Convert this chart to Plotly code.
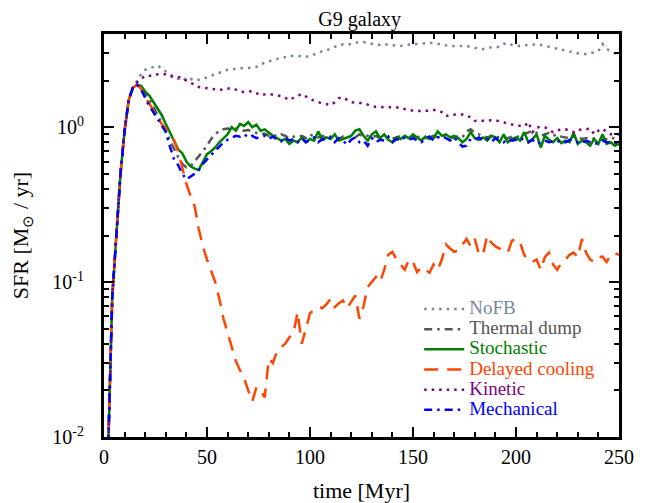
import plotly.graph_objects as go

# time in Myr, sampled every 2 Myr
time = list(range(0, 252, 2))

nofb = [
    0.002, 0.008, 0.08, 0.19, 0.5, 0.95, 1.5, 1.8, 2.0, 2.2,
    2.35, 2.4, 2.45, 2.5, 2.4, 2.3, 2.2, 2.1, 2.05, 2.1,
    2.0, 2.05, 2.0, 2.02, 2.05, 2.1, 2.15, 2.2, 2.27, 2.3,
    2.35, 2.37, 2.38, 2.4, 2.4, 2.42, 2.44, 2.45, 2.55, 2.62,
    2.66, 2.72, 2.76, 2.8, 2.85, 2.88, 2.9, 2.88, 2.86, 2.85,
    2.88, 2.95, 3.05, 3.1, 3.15, 3.2, 3.3, 3.4, 3.42, 3.4,
    3.45, 3.5, 3.55, 3.55, 3.5, 3.45, 3.42, 3.4, 3.45, 3.4,
    3.38, 3.35, 3.35, 3.4, 3.42, 3.45, 3.45, 3.48, 3.5, 3.5,
    3.5, 3.45, 3.4, 3.38, 3.35, 3.35, 3.38, 3.35, 3.35, 3.3,
    3.25, 3.22, 3.2, 3.25, 3.28, 3.3, 3.3, 3.45, 3.5, 3.4,
    3.35, 3.35, 3.38, 3.4, 3.42, 3.4, 3.4, 3.35, 3.3, 3.25,
    3.2, 3.15, 3.1, 3.08, 3.06, 3.0, 2.98, 2.97, 3.0, 3.05,
    3.1, 3.45, 3.2, 3.1, 3.0, 2.97,
]

thermal = [
    0.002, 0.008, 0.08, 0.19, 0.5, 0.95, 1.5, 1.8, 1.88, 1.8,
    1.65, 1.5, 1.35, 1.2, 1.08, 0.95, 0.82, 0.72, 0.64, 0.58,
    0.55, 0.56, 0.6, 0.65, 0.7, 0.76, 0.84, 0.9, 0.95, 0.97,
    0.98, 0.97, 0.98, 0.96, 0.95, 0.96, 0.94, 0.92, 0.9, 0.91,
    0.88, 0.9, 0.87, 0.9, 0.88, 0.85, 0.87, 0.86, 0.88, 0.85,
    0.9, 0.87, 0.86, 0.88, 0.85, 0.87, 0.86, 0.84, 0.87, 0.85,
    0.88, 0.86, 0.9, 0.87, 0.88, 0.86, 0.88, 0.85, 0.87, 0.86,
    0.84, 0.86, 0.88, 0.87, 0.85, 0.87, 0.86, 0.88, 0.85, 0.86,
    0.88, 0.86, 0.85, 0.87, 0.86, 0.85, 0.88, 0.86, 0.94, 0.97,
    0.92, 0.9, 0.87, 0.86, 0.88, 0.85, 0.87, 0.86, 0.85, 0.87,
    0.86, 0.88, 0.9, 0.93, 0.95, 0.92, 0.88, 0.9, 0.92, 0.88,
    0.9, 0.87, 0.86, 0.85, 0.87, 0.86, 0.84, 0.85, 0.86, 0.84,
    0.85, 0.83, 0.84, 0.86, 0.84, 0.83,
]

stochastic = [
    0.002, 0.008, 0.08, 0.19, 0.5, 0.95, 1.5, 1.8, 1.88, 1.85,
    1.7, 1.6, 1.45, 1.3, 1.2, 1.05, 0.93, 0.82, 0.72, 0.68,
    0.6, 0.56, 0.54, 0.53, 0.6, 0.67, 0.7, 0.74, 0.8, 0.85,
    0.9, 1.0, 0.95, 1.05, 1.02, 1.08, 1.0, 1.04, 0.95, 0.97,
    0.92, 0.88, 0.85, 0.82, 0.84, 0.78, 0.82, 0.8, 0.86, 0.8,
    0.84, 0.82, 0.94, 0.83, 0.86, 0.84, 0.9, 0.82, 0.84, 0.86,
    0.88, 0.95, 0.97, 0.88, 0.82, 0.9, 0.94, 0.85, 0.9, 0.83,
    0.8, 0.86, 0.84, 0.88, 0.85, 0.9, 0.86, 0.82, 0.87, 0.84,
    0.85, 0.94, 0.88, 0.9, 0.86, 0.88, 0.85, 0.8, 0.84, 0.93,
    0.85, 0.83, 0.86, 0.82, 0.88, 0.86, 0.8, 0.9, 0.8, 0.84,
    0.86, 0.82, 0.93, 0.8, 0.84, 0.9, 0.74, 0.88, 0.83, 0.8,
    0.85, 0.79, 0.82, 0.8, 0.92, 0.78, 0.82, 0.8, 0.76, 0.84,
    0.78, 0.9, 0.78, 0.8, 0.76, 0.78,
]

delayed = [
    0.002, 0.008, 0.08, 0.19, 0.5, 0.95, 1.5, 1.8, 1.88, 1.78,
    1.55, 1.42, 1.28, 1.15, 1.05, 0.98, 0.9, 0.82, 0.7, 0.56,
    0.43, 0.36, 0.31, 0.22, 0.17, 0.14, 0.12, 0.1, 0.078, 0.058,
    0.047, 0.038, 0.031, 0.027, 0.024, 0.02, 0.017, 0.021, 0.02, 0.018,
    0.032, 0.03, 0.036, 0.038, 0.04, 0.044, 0.047, 0.064, 0.04, 0.05,
    0.063, 0.066, 0.069, 0.068, 0.072, 0.078, 0.069, 0.073, 0.076, 0.068,
    0.075, 0.082, 0.058, 0.07, 0.093, 0.1, 0.108, 0.1, 0.12, 0.15,
    0.157, 0.14, 0.13, 0.12, 0.14, 0.135, 0.116, 0.125, 0.12, 0.115,
    0.13, 0.12, 0.14, 0.175, 0.165, 0.157, 0.16, 0.175, 0.19, 0.17,
    0.19, 0.152, 0.15, 0.2, 0.18, 0.17, 0.165, 0.16, 0.155, 0.185,
    0.19, 0.18, 0.15, 0.138, 0.135, 0.14, 0.12, 0.145, 0.155, 0.13,
    0.12, 0.133, 0.14, 0.15, 0.155, 0.145, 0.19, 0.155, 0.14, 0.135,
    0.145, 0.146, 0.135, 0.15, 0.154, 0.15,
]

kinetic = [
    0.002, 0.008, 0.08, 0.19, 0.5, 0.95, 1.5, 1.8, 1.95, 2.05,
    2.15, 2.15, 2.15, 2.2, 2.2, 2.2, 2.15, 2.1, 2.1, 2.1,
    2.0, 1.95, 1.88, 1.82, 1.8, 1.79, 1.77, 1.75, 1.74, 1.76,
    1.78, 1.79, 1.75, 1.7, 1.69, 1.7, 1.71, 1.66, 1.61, 1.63,
    1.64, 1.62, 1.6, 1.59, 1.55, 1.5, 1.55, 1.6, 1.64, 1.58,
    1.52, 1.48, 1.45, 1.43, 1.41, 1.39, 1.45, 1.54, 1.56, 1.5,
    1.45, 1.44, 1.43, 1.43, 1.4, 1.37, 1.35, 1.35, 1.35, 1.35,
    1.35, 1.35, 1.34, 1.31, 1.29, 1.28, 1.27, 1.27, 1.27, 1.28,
    1.29, 1.29, 1.25, 1.18, 1.2, 1.21, 1.21, 1.21, 1.18, 1.16,
    1.1, 1.09, 1.1, 1.11, 1.11, 1.11, 1.09, 1.07, 1.06, 1.04,
    1.03, 1.02, 1.01, 1.08, 0.93, 1.0, 1.0, 1.0, 0.96, 0.93,
    0.96, 0.97, 0.97, 0.95, 0.93, 0.97, 0.96, 0.97, 0.98, 0.9,
    0.95, 0.98, 0.93, 0.9, 0.9, 0.9,
]

mechanical = [
    0.002, 0.008, 0.08, 0.19, 0.5, 0.95, 1.5, 1.8, 1.88, 1.75,
    1.55, 1.37, 1.25, 1.13, 1.02, 0.93, 0.75, 0.62, 0.57, 0.5,
    0.46, 0.48, 0.5, 0.53, 0.58, 0.62, 0.66, 0.7, 0.75, 0.8,
    0.83, 0.86, 0.88, 0.87, 0.9, 0.86, 0.88, 0.85, 0.86, 0.88,
    0.84, 0.87, 0.83, 0.81, 0.86, 0.82, 0.84, 0.8, 0.85, 0.8,
    0.83, 0.86, 0.8, 0.84, 0.82, 0.86, 0.8, 0.85, 0.82, 0.77,
    0.83, 0.86, 0.8, 0.82, 0.76, 0.85, 0.8, 0.83, 0.82, 0.87,
    0.8, 0.84, 0.82, 0.86, 0.83, 0.85, 0.82, 0.8, 0.84, 0.87,
    0.82, 0.86, 0.87, 0.85, 0.82, 0.86, 0.8, 0.75, 0.76, 0.84,
    0.83, 0.86, 0.82, 0.84, 0.8, 0.85, 0.82, 0.8, 0.84, 0.82,
    0.83, 0.86, 0.82, 0.8, 0.83, 0.78, 0.8, 0.82, 0.8, 0.81,
    0.82, 0.79, 0.8, 0.83, 0.81, 0.8, 0.79, 0.82, 0.8, 0.78,
    0.79, 0.82, 0.8, 0.8, 0.79, 0.8,
]

for s in [nofb, thermal, stochastic, delayed, kinetic, mechanical]:
    assert len(s) == len(time), len(s)

series = [
    ('NoFB', nofb, '#778899', '2.5px,5px'),
    ('Thermal dump', thermal, '#555555', '8px,5px,2.5px,5px'),
    ('Stochastic', stochastic, '#008000', 'solid'),
    ('Delayed cooling', delayed, '#ff4500', '14px,9px'),
    ('Kinetic', kinetic, '#800080', '2.5px,5px'),
    ('Mechanical', mechanical, '#0000ff', '8px,5px,2.5px,5px'),
]

fig = go.Figure()
for nome, dados, cor, traco in series:
    fig.add_trace(go.Scatter(
        x=time, y=dados, mode='lines',
        # texto colorido e maior que a fonte da legenda (mantem as linhas juntas)
        name='<span style="color:%s;font-size:19px">%s</span>' % (cor, nome),
        line=dict(color=cor, dash=traco, width=2.5),
    ))

fonte = 'Liberation Serif, Times New Roman, serif'
eixo = dict(
    showline=True, linecolor='black', linewidth=3, mirror='allticks',
    ticks='inside', ticklen=10, tickwidth=2, tickcolor='black',
    showgrid=False, zeroline=False, automargin=False,
    tickfont=dict(family=fonte, size=20, color='black'),
)

# a pagina tem margem de 8px, por isso a figura e um pouco menor
fig.update_layout(
    width=643, height=495,
    margin=dict(l=96, r=32, t=26, b=66),
    paper_bgcolor='white', plot_bgcolor='white',
    title=dict(text='G9 galaxy', x=0.547, xanchor='center', y=0.977, yanchor='middle',
               font=dict(family=fonte, size=20, color='black')),
    font=dict(family=fonte, color='black'),
    legend=dict(x=0.612, y=0.355, xanchor='left', yanchor='top',
                bgcolor='rgba(0,0,0,0)', font=dict(family=fonte, size=13.2),
                tracegroupgap=0, itemwidth=40),
    showlegend=True,
)
fig.update_xaxes(
    range=[0, 250], tickvals=[0, 50, 100, 150, 200, 250],
    minor=dict(ticks='inside', ticklen=5, tickwidth=2, dtick=10, tickcolor='black'),
    title=dict(text='time [Myr]', font=dict(family=fonte, size=22), standoff=16),
    **eixo,
)
fig.update_yaxes(
    type='log', range=[-2, 0.602],
    tickvals=[0.01, 0.1, 1],
    ticktext=['10<sup>-2</sup>', '10<sup>-1</sup>', '10<sup>0</sup>'],
    ticklabelstandoff=13,
    minor=dict(ticks='inside', ticklen=5, tickwidth=2, dtick='D1', tickcolor='black'),
    title=dict(text='SFR [M<sub>⊙</sub> / yr]', font=dict(family=fonte, size=22), standoff=18),
    **eixo,
)

fig.write_html('out.html')
